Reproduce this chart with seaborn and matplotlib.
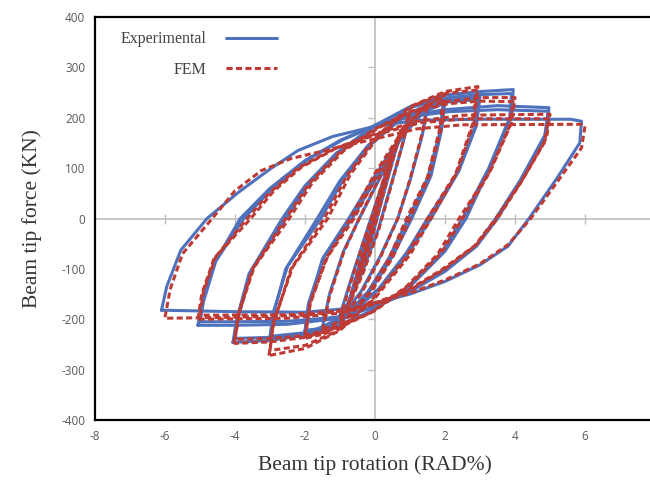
import matplotlib
matplotlib.use("Agg")
import matplotlib.pyplot as plt
import pandas as pd
import seaborn as sns
from matplotlib.lines import Line2D

# ---------------- data ----------------
series_names = ["Experimental", "FEM"]
x_ticks = [-8, -6, -4, -2, 0, 2, 4, 6, 8]
y_ticks = [-400, -300, -200, -100, 0, 100, 200, 300, 400]
x_label = "Beam tip rotation (RAD%)"
y_label = "Beam tip force (KN)"

# Experimental hysteresis loops (rotation %, force kN)
exp_0_5 = [(-0.5, -118), (-0.3, -70), (-0.05, -10), (0.2, 50), (0.5, 122),
           (0.35, 85), (0.1, 25), (-0.15, -35), (-0.5, -118)]
exp_0_75 = [(-0.75, -165), (-0.5, -105), (-0.2, -30), (0.15, 55), (0.45, 120), (0.75, 172),
            (0.55, 125), (0.25, 50), (-0.1, -40), (-0.45, -115), (-0.75, -165)]
exp_1 = [(-1.0, -192), (-0.75, -135), (-0.4, -60), (0.0, 25), (0.45, 115), (0.75, 165), (1.0, 205),
         (0.8, 150), (0.45, 65), (0.1, -20), (-0.35, -105), (-0.7, -160), (-1.0, -192)]
exp_1_5 = [(-1.5, -215), (-1.3, -150), (-0.9, -65), (-0.45, 0), (0.1, 75), (0.7, 155), (1.1, 195), (1.5, 220),
           (1.35, 165), (1.0, 75), (0.65, 0), (0.15, -75), (-0.4, -145), (-0.95, -195), (-1.5, -215)]
exp_2 = [(-2.0, -228), (-1.9, -175), (-1.5, -80), (-0.75, 0), (0.0, 85), (0.7, 160), (1.3, 210), (2.0, 233),
         (1.9, 175), (1.6, 85), (1.05, 0), (0.5, -75), (-0.1, -140), (-0.8, -195), (-1.4, -220), (-2.0, -228)]
exp_2b = [(-2.0, -222), (-1.9, -168), (-1.45, -75), (-0.65, 0), (0.1, 88), (0.8, 165), (1.4, 212), (1.95, 228),
          (1.85, 170), (1.5, 80), (0.95, 0), (0.4, -78), (-0.2, -145), (-0.9, -198), (-1.5, -218), (-2.0, -222)]
exp_3 = [(-3.0, -240), (-2.9, -190), (-2.55, -100), (-1.65, 0), (-1.0, 75), (-0.2, 145), (0.8, 205),
         (1.8, 232), (3.0, 242),
         (2.9, 185), (2.4, 95), (1.6, 0), (1.0, -65), (0.2, -135), (-0.8, -195), (-1.8, -228), (-3.0, -240)]
exp_3b = [(-3.0, -234), (-2.9, -185), (-2.5, -95), (-1.55, 0), (-0.9, 78), (-0.1, 148), (0.9, 207),
          (1.9, 230), (2.95, 236),
          (2.85, 180), (2.35, 90), (1.5, 0), (0.9, -68), (0.1, -140), (-0.9, -198), (-1.9, -226), (-3.0, -234)]
exp_4 = [(-4.06, -246), (-3.95, -200), (-3.6, -110), (-2.65, 0), (-2.0, 65), (-1.1, 130), (0.0, 185),
         (1.0, 222), (2.0, 245), (3.0, 252), (3.95, 256),
         (3.9, 205), (3.3, 105), (2.6, 0), (2.0, -65), (1.0, -135), (0.0, -180), (-1.0, -212),
         (-2.0, -232), (-3.0, -242), (-4.06, -246)]
exp_4b = [(-4.0, -238), (-3.9, -195), (-3.55, -105), (-2.55, 0), (-1.9, 68), (-1.0, 133), (0.1, 188),
          (1.1, 222), (2.1, 240), (3.0, 246), (3.9, 248),
          (3.85, 200), (3.25, 100), (2.5, 0), (1.9, -68), (0.9, -138), (-0.1, -184), (-1.1, -214),
          (-2.1, -230), (-3.0, -236), (-4.0, -238)]
exp_5 = [(-5.06, -212), (-4.95, -170), (-4.6, -90), (-3.85, 0), (-3.0, 60), (-2.0, 115), (-1.0, 155),
         (0.0, 185), (1.0, 205), (2.0, 216), (3.5, 224), (4.97, 220),
         (4.9, 170), (4.2, 80), (3.5, 0), (2.9, -55), (2.0, -105), (1.0, -145), (0.0, -175),
         (-1.0, -198), (-2.5, -210), (-4.0, -212), (-5.06, -212)]
exp_5b = [(-5.0, -205), (-4.9, -165), (-4.55, -85), (-3.75, 0), (-2.9, 62), (-1.9, 118), (-0.9, 157),
          (0.1, 186), (1.1, 203), (2.1, 212), (3.5, 216), (4.95, 213),
          (4.85, 165), (4.15, 76), (3.45, 0), (2.85, -57), (1.9, -108), (0.9, -148), (-0.1, -177),
          (-1.1, -196), (-2.5, -204), (-4.0, -205), (-5.0, -205)]
exp_6 = [(-6.1, -182), (-5.95, -135), (-5.55, -63), (-4.8, 0), (-3.9, 52), (-3.0, 98), (-2.2, 135),
         (-1.2, 163), (0.0, 183), (1.2, 195), (3.0, 197), (5.6, 197), (5.9, 193),
         (5.85, 150), (5.2, 80), (4.4, 0), (3.8, -55), (3.0, -92), (2.0, -125), (1.0, -150),
         (0.0, -168), (-1.0, -180), (-2.0, -186), (-4.0, -185), (-6.1, -182)]

# FEM hysteresis loops
fem_0_5 = [(-0.5, -122), (-0.3, -72), (-0.05, -12), (0.2, 52), (0.5, 125),
           (0.35, 88), (0.1, 27), (-0.15, -37), (-0.5, -122)]
fem_0_75 = [(-0.75, -170), (-0.5, -108), (-0.2, -32), (0.15, 57), (0.45, 124), (0.75, 176),
            (0.55, 128), (0.25, 52), (-0.1, -42), (-0.45, -118), (-0.75, -170)]
fem_1 = [(-1.0, -200), (-0.75, -140), (-0.4, -62), (0.0, 22), (0.45, 118), (0.75, 170), (1.0, 208),
         (0.8, 152), (0.45, 62), (0.1, -24), (-0.35, -110), (-0.7, -165), (-1.0, -200)]
fem_1_5 = [(-1.5, -222), (-1.3, -155), (-0.9, -68), (-0.45, 0), (0.1, 78), (0.7, 160), (1.1, 200), (1.5, 228),
           (1.35, 170), (1.0, 78), (0.65, 0), (0.15, -78), (-0.4, -150), (-0.95, -200), (-1.5, -222)]
fem_2 = [(-2.0, -238), (-1.85, -170), (-1.4, -80), (-0.7, 0), (0.0, 90), (0.7, 165), (1.4, 222), (2.0, 246),
         (1.9, 182), (1.55, 85), (1.0, 0), (0.5, -78), (-0.1, -145), (-0.8, -200), (-1.4, -228), (-2.0, -238)]
fem_2b = [(-2.0, -232), (-1.85, -165), (-1.35, -75), (-0.6, 0), (0.1, 92), (0.8, 170), (1.45, 224), (1.95, 240),
          (1.85, 178), (1.5, 82), (0.9, 0), (0.4, -80), (-0.2, -150), (-0.9, -204), (-1.5, -228), (-2.0, -232)]
fem_3 = [(-3.03, -272), (-2.9, -210), (-2.4, -100), (-1.45, 0), (-0.8, 85), (0.0, 160), (1.0, 222),
         (2.0, 252), (2.94, 262),
         (2.85, 195), (2.35, 92), (1.6, 0), (1.0, -72), (0.0, -158), (-1.0, -222), (-2.0, -258), (-3.03, -272)]
fem_3b = [(-3.0, -262), (-2.9, -205), (-2.35, -96), (-1.35, 0), (-0.7, 88), (0.1, 163), (1.1, 224),
          (2.0, 248), (2.9, 255),
          (2.8, 190), (2.3, 88), (1.5, 0), (0.9, -75), (-0.1, -162), (-1.1, -224), (-2.0, -252), (-3.0, -262)]
fem_4 = [(-4.03, -248), (-3.9, -190), (-3.5, -100), (-2.55, 0), (-1.9, 68), (-1.0, 132), (0.0, 178),
         (1.0, 212), (2.0, 232), (3.0, 240), (4.0, 240),
         (3.9, 190), (3.3, 95), (2.5, 0), (1.9, -68), (1.0, -132), (0.0, -183), (-1.0, -216),
         (-2.0, -236), (-3.0, -245), (-4.03, -248)]
fem_4b = [(-4.0, -240), (-3.88, -186), (-3.45, -96), (-2.45, 0), (-1.8, 70), (-0.9, 134), (0.1, 180),
          (1.1, 212), (2.1, 228), (3.0, 233), (3.95, 232),
          (3.85, 184), (3.25, 90), (2.4, 0), (1.8, -70), (0.9, -135), (-0.1, -186), (-1.1, -217),
          (-2.1, -233), (-3.0, -238), (-4.0, -240)]
fem_5 = [(-5.06, -200), (-4.95, -150), (-4.6, -80), (-3.65, 0), (-3.0, 52), (-2.2, 100), (-1.2, 138),
         (0.0, 168), (1.2, 193), (2.5, 205), (5.0, 207),
         (4.9, 160), (4.2, 75), (3.5, 0), (2.9, -52), (2.0, -100), (1.0, -142), (0.0, -170),
         (-1.0, -188), (-2.5, -198), (-5.06, -200)]
fem_5b = [(-5.0, -192), (-4.9, -145), (-4.55, -76), (-3.55, 0), (-2.9, 54), (-2.1, 102), (-1.1, 140),
          (0.1, 168), (1.3, 190), (2.6, 198), (4.95, 198),
          (4.85, 152), (4.15, 70), (3.45, 0), (2.85, -54), (1.9, -102), (0.9, -144), (-0.1, -170),
          (-1.1, -184), (-2.5, -191), (-5.0, -192)]
fem_6 = [(-6.0, -196), (-5.85, -140), (-5.5, -70), (-4.65, 0), (-4.0, 55), (-3.25, 95), (-2.4, 119),
         (-1.6, 132), (-0.5, 150), (0.0, 158), (1.2, 178), (2.5, 186), (5.9, 187), (6.0, 183),
         (5.9, 140), (5.2, 72), (4.45, 0), (3.8, -52), (3.0, -90), (2.0, -122), (1.0, -148),
         (0.0, -168), (-1.0, -184), (-2.0, -192), (-4.0, -196), (-6.0, -198)]

exp_loops = [exp_0_5, exp_0_75, exp_1, exp_1_5, exp_2, exp_2b, exp_3, exp_3b,
             exp_4, exp_4b, exp_5, exp_5b, exp_6]
fem_loops = [fem_0_5, fem_0_75, fem_1, fem_1_5, fem_2, fem_2b, fem_3, fem_3b,
             fem_4, fem_4b, fem_5, fem_5b, fem_6]

# ---------------- styling ----------------
BLUE = "#4F72BD"
RED = "#BE3A34"
GREY_AX = "#BFBFBF"
TICK_COL = "#595959"

rows = []
for name, loops in zip(series_names, [exp_loops, fem_loops]):
    for i, pts in enumerate(loops):
        for k, (xv, yv) in enumerate(pts):
            rows.append({"series": name, "loop": f"{name}_{i}", "order": k, "x": xv, "y": yv})
df = pd.DataFrame(rows)

sns.set_theme(style="white")
plt.rcParams["font.family"] = ["DejaVu Sans"]

fig = plt.figure(figsize=(6.5, 4.87), dpi=100)
ax = fig.add_axes([95 / 650, (487 - 420) / 487, 560 / 650, 403 / 487])

# zero axis lines (Excel style, crossing at origin)
ax.axhline(0, color=GREY_AX, lw=1.2, zorder=0.5)
ax.axvline(0, color=GREY_AX, lw=1.2, zorder=0.5)
inner_x = [t for t in x_ticks if t not in (x_ticks[0], x_ticks[-1], 0)]
inner_y = [t for t in y_ticks if t not in (y_ticks[0], y_ticks[-1], 0)]
ax.plot(inner_x, [0] * len(inner_x), ls="none", marker="|", ms=7, mew=1.0, color=GREY_AX, zorder=0.6)
ax.plot([0] * len(inner_y), inner_y, ls="none", marker=0, ms=5, mew=1.0, color=GREY_AX, zorder=0.6)

dash_pat = (2.0, 1.1)
sns.lineplot(data=df, x="x", y="y", hue="series", style="series", units="loop",
             estimator=None, sort=False, palette={"Experimental": BLUE, "FEM": RED},
             dashes={"Experimental": "", "FEM": dash_pat}, linewidth=2.2,
             legend=False, ax=ax)

ax.set_xlim(x_ticks[0], x_ticks[-1])
ax.set_ylim(y_ticks[0], y_ticks[-1])
ax.set_xticks(x_ticks)
ax.set_yticks(y_ticks)
ax.set_xticklabels([str(t) for t in x_ticks], fontfamily="Open Sans", fontsize=8.5, color=TICK_COL)
ax.set_yticklabels([str(t) for t in y_ticks], fontfamily="Open Sans", fontsize=8.5, color=TICK_COL)
ax.tick_params(axis="both", length=0, pad=7)
ax.grid(False)
for sp in ax.spines.values():
    sp.set_color("black")
    sp.set_linewidth(1.6)

ax.set_xlabel(x_label, fontfamily="Liberation Serif", fontsize=15.5, color="#333333", labelpad=9)
ax.set_ylabel(y_label, fontfamily="Liberation Serif", fontsize=15.5, color="#333333", labelpad=14)

handles = [Line2D([], [], color=BLUE, lw=2.2),
           Line2D([], [], color=RED, lw=2.2, dashes=dash_pat)]
ax.legend(handles, series_names, loc="upper left", bbox_to_anchor=(0.02, 1.0),
          markerfirst=False, frameon=False, handlelength=3.2, handletextpad=1.2,
          labelspacing=0.9, prop={"family": "Liberation Serif", "size": 11.5})
for t in ax.get_legend().get_texts():
    t.set_color("#404040")

fig.savefig("out.png", dpi=100, facecolor="white")
